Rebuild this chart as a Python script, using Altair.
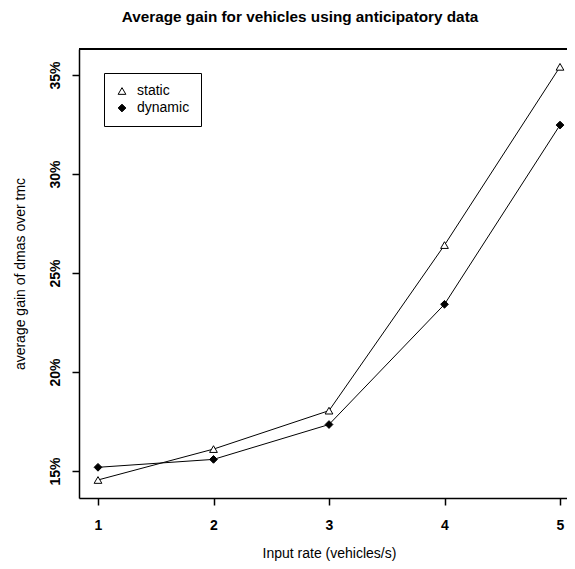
import altair as alt
import pandas as pd

rates = [1, 2, 3, 4, 5]
static_gain = [0.1455, 0.1611, 0.1805, 0.2641, 0.3541]
dynamic_gain = [0.1519, 0.1559, 0.1735, 0.2342, 0.3247]
series_names = ["static", "dynamic"]
y_ticks = [0.15, 0.20, 0.25, 0.30, 0.35]
x_ticks = [1, 2, 3, 4, 5]

rows = []
for name, vals in zip(series_names, [static_gain, dynamic_gain]):
    for r, v in zip(rates, vals):
        rows.append({"rate": r, "gain": v, "series": name})
df = pd.DataFrame(rows)

FONT = "Liberation Sans"
W, H = 488, 449

x_enc = alt.X(
    "rate:Q",
    scale=alt.Scale(domain=[0.8355, 5.0606], nice=False, zero=False),
    axis=alt.Axis(
        values=x_ticks, format="d", title="Input rate (vehicles/s)",
        grid=False, domain=True, domainColor="black", domainWidth=1.5,
        ticks=True, tickSize=7, tickColor="black", tickWidth=1.5,
        labelFont=FONT, labelFontSize=14, labelFontWeight="bold", labelColor="black",
        labelBaseline="alphabetic", labelPadding=24,
        titleFont=FONT, titleFontSize=14, titleFontWeight="normal", titleColor="black",
        titleBaseline="alphabetic", titleY=59, titleX=250,
    ),
)
y_enc = alt.Y(
    "gain:Q",
    scale=alt.Scale(domain=[0.1364, 0.3631], nice=False, zero=False),
    axis=alt.Axis(
        values=y_ticks, format=".0%", title="average gain of dmas over tmc",
        grid=False, domain=True, domainColor="black", domainWidth=1.5,
        ticks=True, tickSize=7, tickColor="black", tickWidth=1.5,
        labelFont=FONT, labelFontSize=14, labelFontWeight="bold", labelColor="black",
        labelAngle=270, labelAlign="center", labelBaseline="alphabetic", labelPadding=13,
        titleFont=FONT, titleFontSize=14, titleFontWeight="normal", titleColor="black",
        titleAngle=270, titleAlign="center", titleBaseline="alphabetic",
        titleX=-55, titleY=H / 2,
    ),
)

legend_opts = dict(
    title=None, orient="none", legendX=25, legendY=24,
    strokeColor="black", fillColor="white", padding=11,
    labelFont=FONT, labelFontSize=14, labelColor="black", labelOffset=8,
    symbolSize=60, symbolStrokeWidth=1, rowPadding=3, cornerRadius=0,
)

lines = alt.Chart(df).mark_line(color="black", strokeWidth=1).encode(
    x=x_enc, y=y_enc, detail="series:N"
)

points = alt.Chart(df).mark_point(filled=True, size=60, strokeWidth=1, opacity=1).encode(
    x=x_enc, y=y_enc,
    shape=alt.Shape(
        "series:N",
        scale=alt.Scale(domain=series_names, range=["triangle-up", "diamond"]),
        legend=alt.Legend(**legend_opts),
    ),
    fill=alt.Fill(
        "series:N",
        scale=alt.Scale(domain=series_names, range=["white", "black"]),
        legend=alt.Legend(**legend_opts),
    ),
    stroke=alt.Stroke(
        "series:N",
        scale=alt.Scale(domain=series_names, range=["black", "black"]),
        legend=alt.Legend(**legend_opts),
    ),
)

top_frame = alt.Chart(df).mark_rule(color="black", strokeWidth=1.5).encode(
    x=alt.value(0), x2=alt.value(W), y=alt.value(0)
)

chart = alt.layer(top_frame, lines, points).properties(
    width=W, height=H,
    padding={"left": 71, "top": 41, "right": 0, "bottom": 63},
    autosize=alt.AutoSizeParams(type="none"),
    title=alt.TitleParams(
        "Average gain for vehicles using anticipatory data",
        font=FONT, fontSize=15.3, fontWeight="bold", color="black",
        anchor="middle", baseline="alphabetic", offset=11, dx=-23,
    ),
).configure_view(stroke=None).configure(background="white")

chart.save("out.html", embed_options={"renderer": "svg", "actions": False})
